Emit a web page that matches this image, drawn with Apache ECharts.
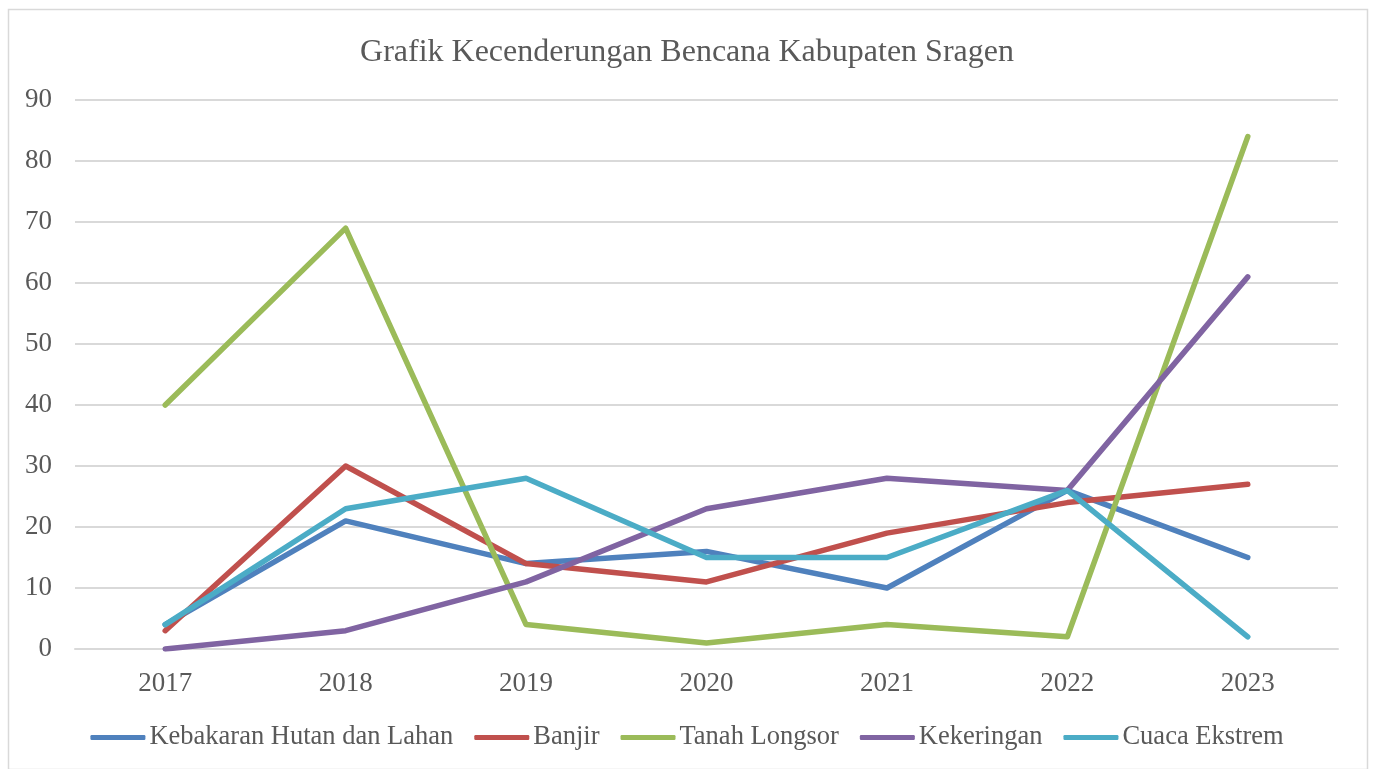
<!DOCTYPE html>
<html>
<head>
<meta charset="utf-8">
<script src="https://cdn.jsdelivr.net/npm/echarts@6/dist/echarts.min.js"></script>
<style>
  html, body { margin: 0; padding: 0; background: #fff; }
  #chart { width: 1374px; height: 769px; }
</style>
</head>
<body>
<div id="chart"></div>
<script>
// data
const years = ['2017', '2018', '2019', '2020', '2021', '2022', '2023']
const kebakaran = [4, 21, 14, 16, 10, 26, 15]
const banjir = [3, 30, 14, 11, 19, 24, 27]
const tanahLongsor = [40, 69, 4, 1, 4, 2, 84]
const kekeringan = [0, 3, 11, 23, 28, 26, 61]
const cuacaEkstrem = [4, 23, 28, 15, 15, 26, 2]

const font = '"Liberation Serif", "Times New Roman", serif'
const textColor = '#595959'

const mkSeries = (name, data, color) => ({
  name,
  type: 'line',
  data,
  symbol: 'none',
  lineStyle: { width: 5.5, color, cap: 'round', join: 'round' },
  itemStyle: { color }
})

const chart = echarts.init(document.getElementById('chart'))
chart.setOption({
  animation: false,
  title: {
    text: 'Grafik Kecenderungan Bencana Kabupaten Sragen',
    left: 'center',
    top: 32,
    textStyle: { fontFamily: font, fontSize: 32, fontWeight: 'normal', color: textColor }
  },
  legend: {
    bottom: 13,
    left: 'center',
    itemWidth: 55,
    itemHeight: 5,
    itemGap: 21,
    icon: 'roundRect',
    textStyle: { fontFamily: font, fontSize: 26.5, color: textColor, padding: [0, 0, 0, -1] }
  },
  grid: { left: 75, right: 36, top: 100, bottom: 120, containLabel: false },
  xAxis: {
    type: 'category',
    data: years,
    boundaryGap: true,
    axisLine: { show: true, lineStyle: { color: '#d9d9d9', width: 2 } },
    axisTick: { show: false },
    axisLabel: { fontFamily: font, fontSize: 27, color: textColor, margin: 21 }
  },
  yAxis: {
    type: 'value',
    min: 0,
    max: 90,
    interval: 10,
    axisLine: { show: false },
    axisTick: { show: false },
    splitLine: { lineStyle: { color: '#d9d9d9', width: 2 } },
    axisLabel: { fontFamily: font, fontSize: 27, color: textColor, margin: 23 }
  },
  series: [
    mkSeries('Kebakaran Hutan dan Lahan', kebakaran, '#4F81BD'),
    mkSeries('Banjir', banjir, '#C0504D'),
    mkSeries('Tanah Longsor', tanahLongsor, '#9BBB59'),
    mkSeries('Kekeringan', kekeringan, '#8064A2'),
    mkSeries('Cuaca Ekstrem', cuacaEkstrem, '#4BACC6')
  ],
  graphic: [{
    type: 'rect',
    shape: { x: 8.5, y: 9.5, width: 1359, height: 760 },
    style: { fill: 'none', stroke: '#d9d9d9', lineWidth: 1.5 },
    silent: true
  }]
})
</script>
</body>
</html>
